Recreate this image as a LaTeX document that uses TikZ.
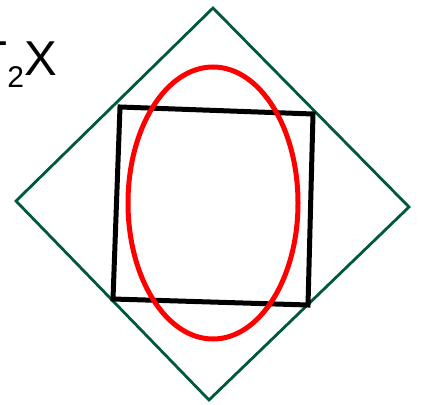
\documentclass[tikz,border=0pt]{standalone}
\usepackage{fontspec}
\setmainfont{Liberation Sans}
\usepackage{tikz}
\definecolor{framegreen}{RGB}{0,88,62}
\definecolor{loopred}{RGB}{255,0,0}
\tikzset{
  outline/.style={framegreen, line width=2.8pt},
  quad/.style={black, line width=5pt, line join=miter},
  oval/.style={loopred, line width=5pt},
}

\begin{document}
\begin{tikzpicture}[x=1pt, y=-1pt]
  \useasboundingbox (0,0) rectangle (436,404);
  \clip (0,0) rectangle (436,404);
  % outer diamond
  \coordinate (dtop) at (213,8);
  \coordinate (dright) at (409,207);
  \coordinate (dbot) at (209,400);
  \coordinate (dleft) at (16,201);
  \draw[outline] (dtop) -- (dright) -- (dbot) -- (dleft) -- cycle;
  % tilted square
  \coordinate (qa) at (120,107);
  \coordinate (qb) at (313,114);
  \coordinate (qc) at (308,305);
  \coordinate (qd) at (113,299);
  \draw[quad] (qa) -- (qb) -- (qc) -- (qd) -- cycle;
  % ellipse
  \coordinate (mid) at (213,203);
  \draw[oval] (mid) ellipse [x radius=85, y radius=136];
  % label
  \node[anchor=base east, inner sep=0pt, font=\fontsize{49}{49}\selectfont] (lbl) at (57,75)
    {T\raisebox{-13pt}{\fontsize{30}{30}\selectfont 2}X};
\end{tikzpicture}
\end{document}
